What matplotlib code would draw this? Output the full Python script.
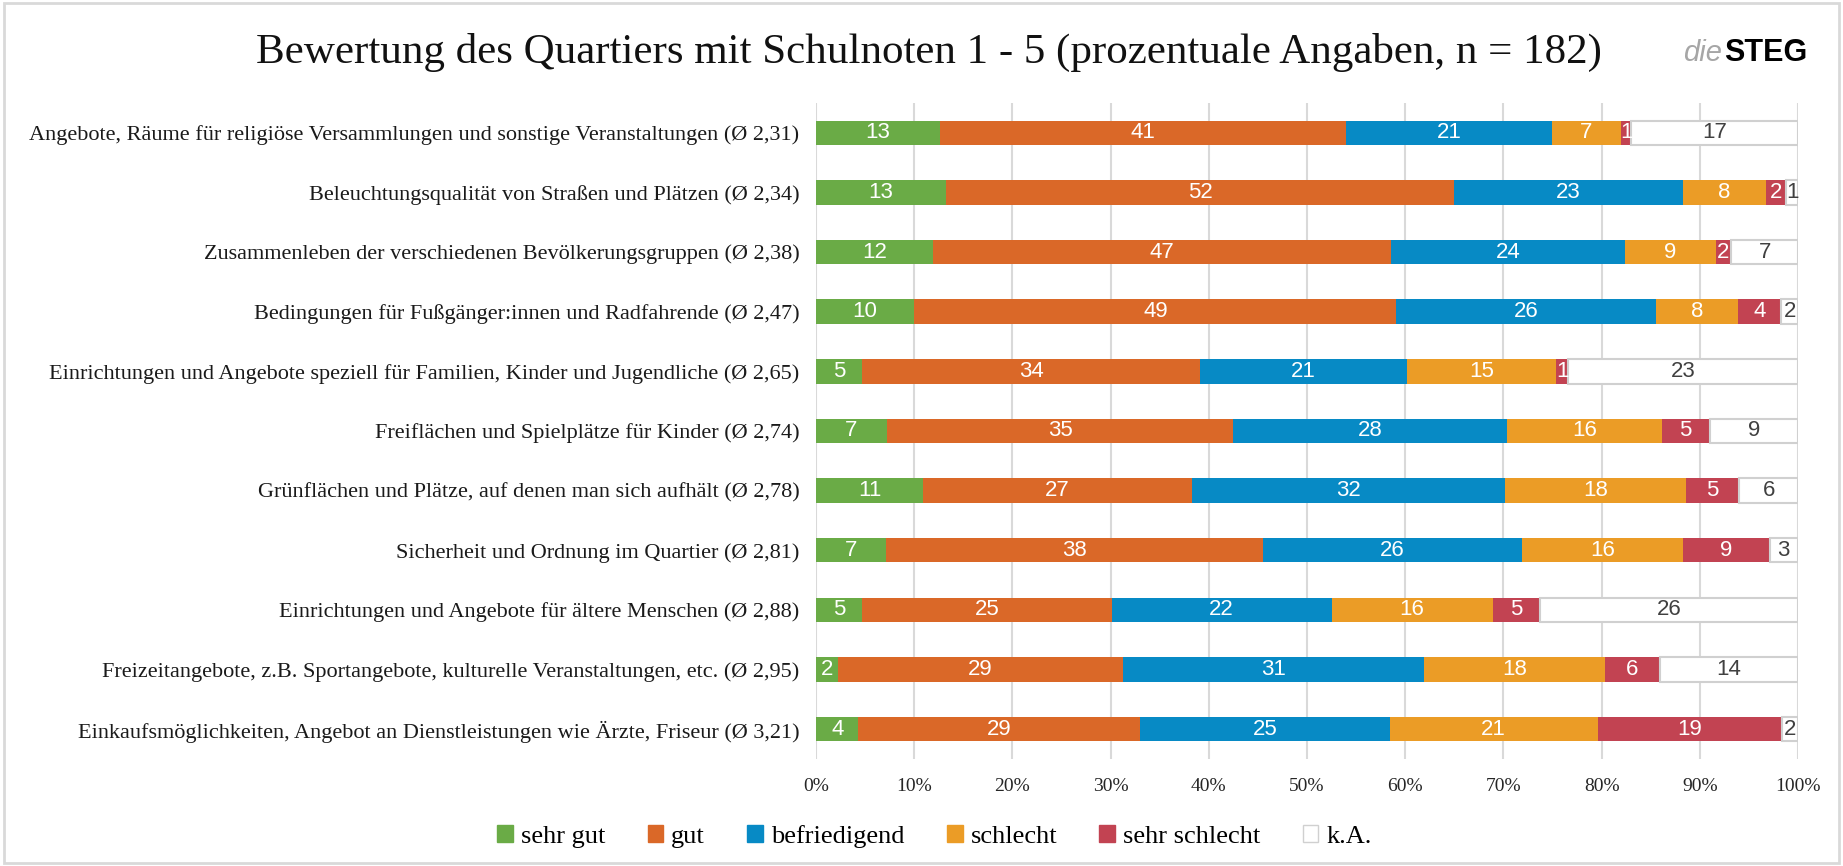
import matplotlib
matplotlib.use('Agg')
import matplotlib.pyplot as plt
from matplotlib.patches import Rectangle, Patch
import numpy as np

# categories (top to bottom) with average grade
categories = [
    'Angebote, Räume für religiöse Versammlungen und sonstige Veranstaltungen (Ø 2,31)',
    'Beleuchtungsqualität von Straßen und Plätzen (Ø 2,34)',
    'Zusammenleben der verschiedenen Bevölkerungsgruppen (Ø 2,38)',
    'Bedingungen für Fußgänger:innen und Radfahrende (Ø 2,47)',
    'Einrichtungen und Angebote speziell für Familien, Kinder und Jugendliche (Ø 2,65)',
    'Freiflächen und Spielplätze für Kinder (Ø 2,74)',
    'Grünflächen und Plätze, auf denen man sich aufhält (Ø 2,78)',
    'Sicherheit und Ordnung im Quartier (Ø 2,81)',
    'Einrichtungen und Angebote für ältere Menschen (Ø 2,88)',
    'Freizeitangebote, z.B. Sportangebote, kulturelle Veranstaltungen, etc. (Ø 2,95)',
    'Einkaufsmöglichkeiten, Angebot an Dienstleistungen wie Ärzte, Friseur (Ø 3,21)',
]

# percentages per answer
sehr_gut      = [12.6, 13.2, 11.9, 10.0, 4.7, 7.2, 10.9, 7.1, 4.7, 2.2, 4.3]
gut           = [41.4, 51.8, 46.6, 49.1, 34.4, 35.3, 27.4, 38.4, 25.4, 29.1, 28.7]
befriedigend  = [20.9, 23.3, 23.9, 26.4, 21.1, 27.9, 31.9, 26.4, 22.4, 30.6, 25.4]
schlecht      = [7.1, 8.4, 9.2, 8.4, 15.2, 15.7, 18.4, 16.4, 16.4, 18.4, 21.2]
sehr_schlecht = [1.0, 2.1, 1.6, 4.4, 1.2, 4.9, 5.4, 8.8, 4.8, 5.6, 18.8]
keine_angabe  = [17.0, 1.2, 6.8, 1.7, 23.4, 9.0, 6.0, 2.9, 26.3, 14.1, 1.6]

series = [sehr_gut, gut, befriedigend, schlecht, sehr_schlecht, keine_angabe]
series_names = ['sehr gut', 'gut', 'befriedigend', 'schlecht', 'sehr schlecht', 'k.A.']
colors = ['#6AAB46', '#DA6828', '#078AC5', '#EB9C26', '#C24352', '#FFFFFF']

serif = ['Liberation Serif', 'DejaVu Serif']
narrow = ['Liberation Sans Narrow', 'Liberation Sans', 'DejaVu Sans']

fig = plt.figure(figsize=(18.43, 8.66), dpi=100)
ax = fig.add_axes([0.4428, 0.1236, 0.5328, 0.7575])

y = np.arange(len(categories))
left = np.zeros(len(categories))
for vals, name, col in zip(series, series_names, colors):
    vals = np.array(vals)
    if name == 'k.A.':
        ax.barh(y, vals, left=left, height=0.41, color=col,
                edgecolor='#D0D0D0', linewidth=1.5, zorder=3)
        txtcol = '#404040'
    else:
        ax.barh(y, vals, left=left, height=0.41, color=col,
                linewidth=0, zorder=3)
        txtcol = 'white'
    for yi, l, v in zip(y, left, vals):
        ax.text(l + v / 2, yi, f'{v:.0f}', ha='center', va='center',
                color=txtcol, fontsize=16, family=narrow, zorder=4)
    left += vals

ax.set_xlim(0, 100)
ax.set_ylim(len(categories) - 0.5, -0.5)
ax.set_xticks(np.arange(0, 101, 10))
ax.set_xticklabels([f'{t}%' for t in range(0, 101, 10)], family=serif,
                   fontsize=14, color='#262626')
ax.set_yticks(y)
ax.set_yticklabels(categories, family=serif, fontsize=16, color='#1A1A1A')
ax.tick_params(axis='both', length=0)
ax.tick_params(axis='x', pad=14)
ax.tick_params(axis='y', pad=12)
ax.xaxis.grid(True, color='#D9D9D9', linewidth=1.5, zorder=0)
ax.set_axisbelow(True)
for s in ax.spines.values():
    s.set_visible(False)

fig.text(0.504, 0.939, 'Bewertung des Quartiers mit Schulnoten 1 - 5 (prozentuale Angaben, n = 182)',
         ha='center', va='center', fontsize=31, family=serif, color='#111111')
fig.text(0.9345, 0.939, 'die', ha='right', va='center', fontsize=21,
         style='italic', color='#A6A6A6', family=narrow)
fig.text(0.9355, 0.939, 'STEG', ha='left', va='center', fontsize=22,
         weight='bold', color='black', family=narrow)

handles = []
for name, col in zip(series_names, colors):
    ec = '#D0D0D0' if name == 'k.A.' else col
    handles.append(Patch(facecolor=col, edgecolor=ec, linewidth=1, label=name))
fig.legend(handles=handles, loc='center', bbox_to_anchor=(0.507, 0.034),
           ncol=6, frameon=False, prop={'family': serif, 'size': 19},
           handlelength=0.6, handleheight=0.6, handletextpad=0.3,
           columnspacing=1.6)

# outer frame
fig.patches.append(Rectangle((0.002, 0.003), 0.996, 0.994, transform=fig.transFigure,
                             fill=False, edgecolor='#D9D9D9', linewidth=2))

fig.savefig('out.png', dpi=100)
